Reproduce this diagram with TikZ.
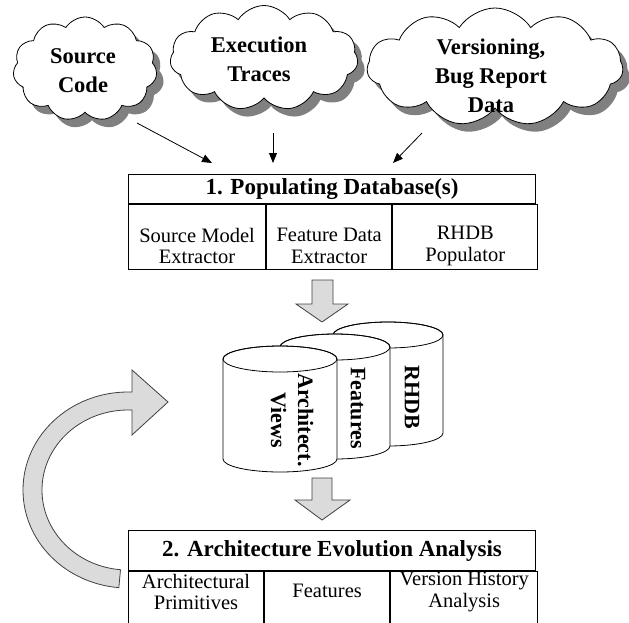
\documentclass[tikz,border=0pt]{standalone}
\usepackage{fontspec}
\setmainfont{Liberation Serif}
\usetikzlibrary{arrows.meta, positioning, shapes.symbols, shadows}

\begin{document}
\begin{tikzpicture}[x=1pt, y=-1pt,
	cloudbox/.style={cloud, cloud puffs=11, cloud puff arc=115, cloud ignores aspect, draw=black, line width=0.8pt, fill=white, inner sep=0pt,
		drop shadow={shadow xshift=7pt, shadow yshift=-8pt, fill=black!50, opacity=1}},
	cloudtxt/.style={align=center, inner sep=0pt, font=\fontsize{22.5}{29}\selectfont\bfseries},
	feed/.style={line width=0.8pt, -{Triangle[length=10pt, width=8pt]}},
	hdr/.style={draw, line width=1.1pt, inner sep=0pt, font=\fontsize{23}{28}\selectfont\bfseries},
	cellbox/.style={draw, line width=1.1pt, inner sep=0pt},
	celltxt/.style={align=center, inner sep=0pt, font=\fontsize{20.5}{21.5}\selectfont},
	blockarrow/.style={fill=black!14, draw=black!75, line width=0.8pt, line join=miter},
	cyltxt/.style={align=center, inner sep=0pt, rotate=-90, font=\fontsize{22}{27}\selectfont\bfseries}]

	\useasboundingbox (0,0) rectangle (629,622);

	% input clouds
	\node[cloudbox, minimum width=144pt, minimum height=104pt] (src) at (85,69) {};
	\node[cloudbox, minimum width=188pt, minimum height=105pt] (exe) at (264,58) {};
	\node[cloudbox, minimum width=256pt, minimum height=118pt] (ver) at (495,67) {};
	\node[cloudtxt] (srct) at (83,71) {Source\\Code};
	\node[cloudtxt] (exet) at (259,59) {Execution\\Traces};
	\node[cloudtxt] (vert) at (491,76) {Versioning,\\Bug Report\\Data};

	\coordinate (srcout) at (137,123);
	\coordinate (exeout) at (273,133);
	\coordinate (verout) at (422,133);
	\coordinate (srcin) at (212,163);
	\coordinate (exein) at (273,163);
	\coordinate (verin) at (393,163);
	\draw[feed] (srcout) -- (srcin);
	\draw[feed] (exeout) -- (exein);
	\draw[feed] (verout) -- (verin);

	% step 1
	\node[hdr, minimum width=407pt, minimum height=29pt, anchor=north west] (pop) at (128,174) {1. Populating Database(s)};
	\node[cellbox, minimum width=137pt, minimum height=65pt, anchor=north west] (sme) at (pop.south west) {};
	\node[cellbox, minimum width=125pt, minimum height=65pt, right=0pt of sme] (fde) {};
	\node[cellbox, minimum width=145pt, minimum height=65pt, right=0pt of fde] (rhp) {};
	\node[celltxt] (smet) at ([yshift=-42pt]sme.north) {Source Model\\Extractor};
	\node[celltxt] (fdet) at ([yshift=-42pt]fde.north) {Feature Data\\Extractor};
	\node[celltxt] (rhpt) at ([yshift=-42pt]rhp.north) {RHDB\\Populator};

	\filldraw[blockarrow] (312,280) -- (333,280) -- (333,304) -- (348,304) -- (322,322) -- (296,304) -- (312,304) -- cycle;

	% databases, back to front
	\foreach \cx/\ct/\cb/\rx in {388/335/433/55, 335/347/446/55, 280/359/459/57}{
		\filldraw[fill=white, line width=0.8pt] (\cx-\rx,\ct) -- (\cx-\rx,\cb)
			arc[start angle=180, end angle=360, x radius=\rx pt, y radius=13pt] -- (\cx+\rx,\ct)
			arc[start angle=0, end angle=180, x radius=\rx pt, y radius=13pt] -- cycle;
		\draw[line width=0.8pt] (\cx,\ct) ellipse[x radius=\rx pt, y radius=13pt];
	}
	\node[cyltxt] (rhdb) at (412,397) {RHDB};
	\node[cyltxt] (feat) at (358,408) {Features};
	\node[cyltxt] (arch) at (292,420) {Architect.\\Views};

	\filldraw[blockarrow] (312,478) -- (332,478) -- (332,500) -- (350,500) -- (322,520) -- (295,500) -- (312,500) -- cycle;

	% step 2
	\node[hdr, minimum width=407pt, minimum height=40pt, anchor=north west] (evo) at (128,530) {2. Architecture Evolution Analysis};
	\node[cellbox, minimum width=135pt, minimum height=56pt, anchor=north west] (apr) at (evo.south west) {};
	\node[cellbox, minimum width=125pt, minimum height=56pt, right=0pt of apr] (fea) {};
	\node[cellbox, minimum width=147pt, minimum height=56pt, right=0pt of fea] (vha) {};
	\node[celltxt] (aprt) at ([yshift=-21pt]apr.north) {Architectural\\Primitives};
	\node[celltxt] (feat2) at ([yshift=-20pt]fea.north) {Features};
	\node[celltxt] (vhat) at ([yshift=-21pt]vha.north) {Version History\\Analysis};

	% feedback loop
	\filldraw[blockarrow] (132,392) -- (128,392)
		arc[start angle=90, end angle=265, x radius=105pt, y radius=98pt] -- (120.5,569.7)
		arc[start angle=265, end angle=90, x radius=86pt, y radius=80pt] -- (132,410) -- (132,435) -- (168,402) -- (132,370) -- cycle;
\end{tikzpicture}
\end{document}
